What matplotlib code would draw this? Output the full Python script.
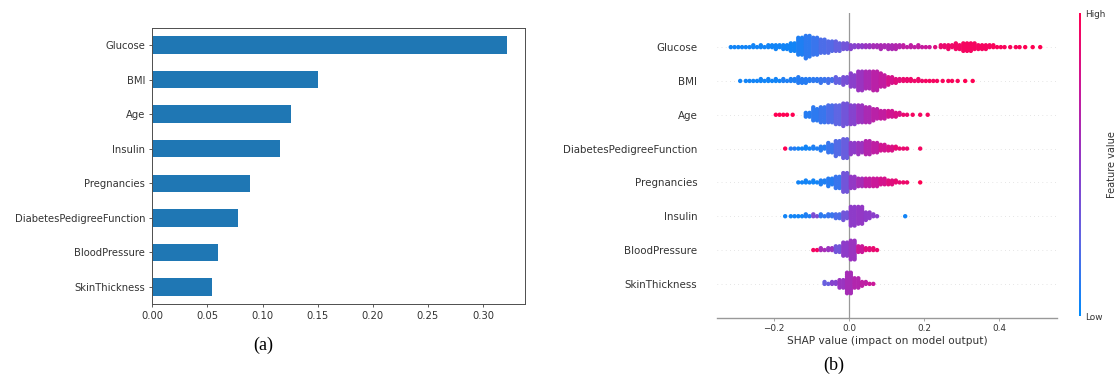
import matplotlib
matplotlib.use("Agg")
import matplotlib.pyplot as plt
from matplotlib.cm import ScalarMappable
from matplotlib.colors import LinearSegmentedColormap, Normalize

# ---- panel (a): feature importance ----
features_a = ["Glucose", "BMI", "Age", "Insulin", "Pregnancies",
              "DiabetesPedigreeFunction", "BloodPressure", "SkinThickness"]
importance = [0.322, 0.150, 0.126, 0.116, 0.089, 0.078, 0.060, 0.054]
xticks_a = [0.00, 0.05, 0.10, 0.15, 0.20, 0.25, 0.30]

features_b = ["Glucose", "BMI", "Age", "DiabetesPedigreeFunction",
              "Pregnancies", "Insulin", "BloodPressure", "SkinThickness"]
# centre of the first bin for each feature
bin_start = [-0.31, -0.29, -0.19, -0.17, -0.13, -0.17, -0.09, -0.06]

glucose_cnt = [2, 2, 2, 3, 3, 4, 5, 6, 10, 20, 25, 20, 16, 13, 11, 8, 5, 4, 4, 4,
               5, 6, 5, 3, 3, 3, 2, 1, 4, 5, 7, 10, 9, 6, 5, 3, 2, 1, 2, 1, 1, 1]
glucose_lvl = [.05, .05, .05, .05, .05, .05, .05, .05, .05, .08, .12, .15, .2, .22,
               .28, .35, .45, .5, .55, .6, .62, .62, .65, .7, .7, .72, .75, .85,
               .9, .92, .93, .95, .95, .95, .95, .97, .97, .97, .97, 1, 1, 1]
bmi_cnt = [1, 2, 2, 3, 3, 3, 3, 4, 7, 5, 4, 5, 5, 7, 9, 15, 22, 20, 22, 15, 9,
           5, 4, 3, 3, 2, 2, 1, 2, 1, 1, 1]
bmi_lvl = [.05, .05, .05, .05, .05, .05, .08, .08, .1, .1, .12, .15, .18, .28,
           .38, .48, .55, .62, .68, .72, .8, .85, .9, .92, .92, .95, .95, .97,
           .97, .97, 1, 1]
age_cnt = [2, 2, 1, 0, 6, 15, 18, 20, 22, 25, 22, 20, 18, 13, 10, 8, 5, 2, 1, 1, 1]
age_lvl = [1, 1, 1, 0, .1, .12, .15, .2, .25, .35, .45, .55, .62, .68, .72, .78,
           .82, .9, .95, .95, .95]
dpf_cnt = [1, 2, 2, 3, 3, 5, 11, 17, 22, 13, 13, 16, 12, 8, 6, 3, 2, 0, 1]
dpf_lvl = [1, .1, .05, .05, .08, .1, .15, .22, .3, .5, .55, .65, .7, .78, .82,
           .88, .9, 0, .95]
preg_cnt = [2, 3, 3, 5, 9, 14, 22, 14, 10, 10, 10, 8, 6, 3, 2, 0, 1]
preg_lvl = [.05, .05, .05, .08, .1, .15, .35, .52, .6, .7, .75, .8, .85, .88,
            .92, 0, 1]
insulin_cnt = [1, 2, 2, 3, 3, 3, 4, 6, 9, 22, 20, 9, 3, 0, 0, 0, 1]
insulin_lvl = [.05, .05, .05, .08, .4, .12, .15, .2, .35, .5, .52, .5, .48, 0, 0,
               0, .05]
bp_cnt = [2, 3, 4, 8, 16, 22, 8, 4, 3]
bp_lvl = [.95, .6, .55, .35, .5, .55, .75, .85, .9]
skin_cnt = [3, 4, 10, 24, 12, 5, 2]
skin_lvl = [.3, .45, .55, .6, .65, .7, .75]

counts_b = [glucose_cnt, bmi_cnt, age_cnt, dpf_cnt, preg_cnt, insulin_cnt,
            bp_cnt, skin_cnt]
levels_b = [glucose_lvl, bmi_lvl, age_lvl, dpf_lvl, preg_lvl, insulin_lvl,
            bp_lvl, skin_lvl]
xticks_b = [-0.2, 0.0, 0.2, 0.4]

BIN_W = 0.02
STEP = 0.055         # vertical gap between stacked dots (row units)
AXIS_C = "#333333"

red_blue = LinearSegmentedColormap.from_list(
    "red_blue", [(0.0, "#008bfb"), (0.25, "#5f66e3"), (0.5, "#8e3bc9"),
                 (0.75, "#c9189a"), (1.0, "#ff0052")])

W, H = 1116, 376
fig = plt.figure(figsize=(W / 100, H / 100), dpi=100)

# ---------------- (a) ----------------
ax = fig.add_axes([152.3 / W, 1 - 304.3 / H, (525 - 152.3) / W, (304.3 - 27.7) / H])
pos = list(range(len(features_a)))[::-1]
ax.barh(pos, importance, height=0.5, color="#1f77b4")
ax.set_yticks(pos)
ax.set_yticklabels(features_a)
ax.set_xticks(xticks_a)
ax.set_xticklabels([f"{t:.2f}" for t in xticks_a])
ax.set_ylim(-0.5, len(features_a) - 0.5)
ax.set_xlim(0, max(importance) * 1.05)
ax.tick_params(labelsize=7.2, length=2.5, width=0.6, pad=2.5,
               colors="0.25", labelcolor="0.2")
for sp in ax.spines.values():
    sp.set_linewidth(0.7)
    sp.set_color("0.3")
fig.text(263.3 / W, 1 - 345 / H, "(a)", family="Liberation Serif", fontsize=13,
         ha="center", va="center")

# ---------------- (b) ----------------
bx = fig.add_axes([717.3 / W, 1 - 317.7 / H, (1056.7 - 717.3) / W, (317.7 - 13.3) / H])
nrow = len(features_b)
bx.axvline(0, color="#999999", lw=0.9, zorder=-1)
for row in range(nrow):
    y0 = nrow - 1 - row
    bx.axhline(y0, color="#cccccc", lw=0.5, dashes=(1, 5), zorder=-1)
    xs, ys, cs = [], [], []
    for k, (n, lev) in enumerate(zip(counts_b[row], levels_b[row])):
        xc = bin_start[row] + k * BIN_W
        for j in range(n):
            m = j // 2
            off = (m + 1) // 2 * (1 if m % 2 else -1)   # 0, +1, -1, +2, ...
            xs.append(xc + ((j % 2) - 0.5) * BIN_W / 2 if n > 1 else xc)
            ys.append(y0 + off * STEP)
            cs.append(lev)
    bx.scatter(xs, ys, c=cs, cmap=red_blue, vmin=0, vmax=1, s=10,
               linewidths=0, zorder=3)

bx.set_xlim(-0.351, 0.554)
bx.set_ylim(-1, nrow)
bx.set_yticks(range(nrow))
bx.set_yticklabels(features_b[::-1])
bx.set_xticks(xticks_b)
bx.set_xticklabels([f"{t:.1f}".replace("-", "\u2212") for t in xticks_b])
for side in ("left", "right", "top"):
    bx.spines[side].set_visible(False)
bx.spines["bottom"].set_color("#999999")
bx.spines["bottom"].set_linewidth(1.0)
bx.tick_params("y", length=0, pad=14.4, labelsize=7.4, labelcolor=AXIS_C)
bx.tick_params("x", length=2.5, width=0.6, color="#999999", pad=2,
               labelsize=6.4, labelcolor=AXIS_C)
bx.set_xlabel("SHAP value (impact on model output)", fontsize=7.6,
              color=AXIS_C, labelpad=2)
fig.text(833.3 / W, 1 - 365.7 / H, "(b)", family="Liberation Serif", fontsize=13,
         ha="center", va="center")

cax = fig.add_axes([1078.8 / W, 1 - 316 / H, 2.6 / W, (316 - 13.3) / H])
cb = fig.colorbar(ScalarMappable(norm=Normalize(0, 1), cmap=red_blue),
                  cax=cax, ticks=[0, 1])
cb.set_ticklabels(["Low", "High"])
cb.outline.set_visible(False)
cax.tick_params(labelsize=6.4, length=0, pad=3, labelcolor=AXIS_C)
cb.set_label("Feature value", size=7.0, labelpad=1, color=AXIS_C)

fig.savefig("out.png", dpi=100)
